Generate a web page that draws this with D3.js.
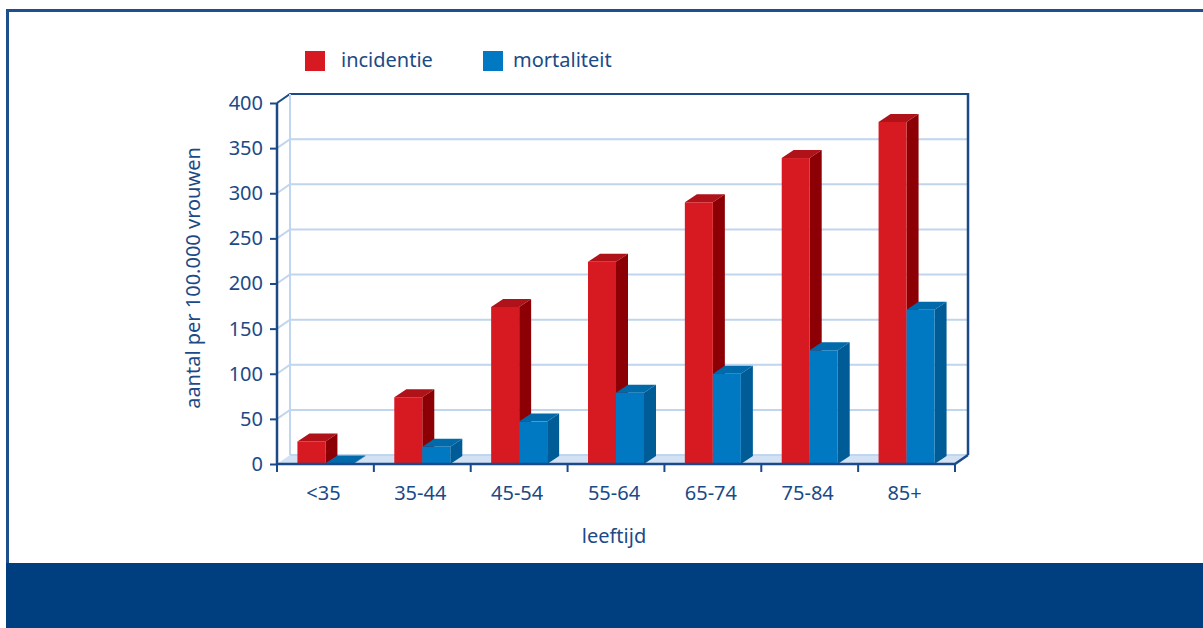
<!DOCTYPE html>
<html>
<head>
<meta charset="utf-8">
<script src="https://cdn.jsdelivr.net/npm/d3@7"></script>
<style>
  body { margin: 0; background: #fff; }
  svg text { font-family: "Noto Sans", sans-serif; fill: #1b4a87; }
</style>
</head>
<body>
<div id="chart"></div>
<script>
// Data.
var categories = ['<35', '35-44', '45-54', '55-64', '65-74', '75-84', '85+'];
var incidentie = [25, 74, 174, 224, 290, 339, 379];
var mortaliteit = [0.5, 19, 47, 79, 100, 126, 171];
var yTicks = [0, 50, 100, 150, 200, 250, 300, 350, 400];
var seriesNames = ['incidentie', 'mortaliteit'];

var W = 1203, H = 628;
var dark = '#1b4a87', grid = '#c0d5ee';
var depthX = 13, depthY = -9;     // wall depth
var barDX = 12, barDY = -8;       // bar depth
var barW = 28;
var fs = 20;

var colors = {
    incidentie: {front: '#d71a21', side: '#8c0005', top: '#b0121a'},
    mortaliteit: {front: '#0079c2', side: '#005c96', top: '#006aab'}
};

var svg = d3.select('#chart').append('svg')
    .attr('width', W)
    .attr('height', H);

// Frame and footer band.
svg.append('rect')
    .attr('x', 7.5).attr('y', 10.5)
    .attr('width', W + 10).attr('height', 560)
    .attr('fill', 'none')
    .attr('stroke', '#1d4f8c')
    .attr('stroke-width', 3);
svg.append('rect')
    .attr('x', 6).attr('y', 563)
    .attr('width', W - 6).attr('height', H - 563)
    .attr('fill', '#003f7f');

var x = d3.scaleBand().domain(categories).range([277, 955]);
var y = d3.scaleLinear().domain([0, 400]).range([464, 103]);

var x0 = x.range()[0], x1 = x.range()[1];

// Floor.
svg.append('polygon')
    .attr('points', [[x0, y(0)], [x0 + depthX, y(0) + depthY], [x1 + depthX, y(0) + depthY], [x1, y(0)]].join(' '))
    .attr('fill', '#d2e1f3');

// Gridlines on back and left walls.
var g = svg.append('g').attr('class', 'grid');
yTicks.forEach(function(t) {
    if (t === 0) return;
    g.append('polyline')
        .attr('points', [[x0, y(t)], [x0 + depthX, y(t) + depthY], [x1 + depthX, y(t) + depthY]].join(' '))
        .attr('fill', 'none')
        .attr('stroke', t === 400 ? dark : grid)
        .attr('stroke-width', 2);
});
g.append('line')
    .attr('x1', x0 + depthX).attr('x2', x0 + depthX)
    .attr('y1', y(400) + depthY).attr('y2', y(0) + depthY)
    .attr('stroke', grid).attr('stroke-width', 2);
g.append('line')
    .attr('x1', x0 + depthX).attr('x2', x1 + depthX)
    .attr('y1', y(0) + depthY).attr('y2', y(0) + depthY)
    .attr('stroke', grid).attr('stroke-width', 2);
g.append('line')
    .attr('x1', x1 + depthX).attr('x2', x1 + depthX)
    .attr('y1', y(400) + depthY - 1).attr('y2', y(0) + depthY)
    .attr('stroke', dark).attr('stroke-width', 2.5);

// 3D bars.
function drawBar(sel, bx, v, c) {
    var yt = y(v), yb = y(0);
    sel.append('polygon')
        .attr('points', [[bx, yt], [bx + barDX, yt + barDY], [bx + barW + barDX, yt + barDY], [bx + barW, yt]].join(' '))
        .attr('fill', c.top);
    sel.append('polygon')
        .attr('points', [[bx + barW, yt], [bx + barW + barDX, yt + barDY], [bx + barW + barDX, yb + barDY], [bx + barW, yb]].join(' '))
        .attr('fill', c.side);
    sel.append('rect')
        .attr('x', bx).attr('y', yt)
        .attr('width', barW).attr('height', yb - yt)
        .attr('fill', c.front);
}

var bars = svg.append('g').attr('class', 'bars');
categories.forEach(function(cat, i) {
    var start = x(cat) + (x.bandwidth() - 2 * barW) / 2;
    drawBar(bars, start, incidentie[i], colors.incidentie);
    drawBar(bars, start + barW, mortaliteit[i], colors.mortaliteit);
});

// Front axes.
svg.append('polyline')
    .attr('points', [[x0, y(400)], [x0, y(0)], [x1, y(0)], [x1 + depthX, y(0) + depthY]].join(' '))
    .attr('fill', 'none')
    .attr('stroke', dark)
    .attr('stroke-width', 2.5);

var yAxis = d3.axisLeft(y).tickValues(yTicks).tickSize(7).tickPadding(7);
svg.append('g')
    .attr('transform', 'translate(' + x0 + ',0)')
    .call(yAxis)
    .call(function(a) {
        a.select('.domain').remove();
        a.selectAll('line').attr('stroke', dark).attr('stroke-width', 2);
        a.selectAll('text').attr('font-size', fs).attr('fill', dark)
            .style('font-family', '"Noto Sans", sans-serif');
    });

var boundaries = categories.map(function(c) { return x(c); }).concat([x1]);
svg.append('g').selectAll('line')
    .data(boundaries)
    .join('line')
    .attr('x1', function(d) { return d; }).attr('x2', function(d) { return d; })
    .attr('y1', y(0)).attr('y2', y(0) + 8)
    .attr('stroke', dark).attr('stroke-width', 2);

svg.append('g').selectAll('text')
    .data(categories)
    .join('text')
    .attr('x', function(d) { return x(d) + x.bandwidth() / 2 - 2; })
    .attr('y', 500)
    .attr('text-anchor', 'middle')
    .attr('font-size', fs)
    .text(function(d) { return d; });

// Axis titles.
svg.append('text')
    .attr('x', 614).attr('y', 543)
    .attr('text-anchor', 'middle')
    .attr('font-size', fs)
    .text('leeftijd');
svg.append('text')
    .attr('transform', 'translate(200,278) rotate(-90)')
    .attr('text-anchor', 'middle')
    .attr('font-size', fs)
    .text('aantal per 100.000 vrouwen');

// Legend.
var legendX = [305, 483], legendTextX = [341, 513];
var legend = svg.append('g').selectAll('g')
    .data(seriesNames)
    .join('g')
    .attr('transform', function(d, i) { return 'translate(' + legendX[i] + ',51)'; });
legend.append('rect')
    .attr('width', 20).attr('height', 20)
    .attr('fill', function(d) { return colors[d].front; });
legend.append('text')
    .attr('x', function(d, i) { return legendTextX[i] - legendX[i]; })
    .attr('y', 16)
    .attr('font-size', fs)
    .text(function(d) { return d; });
</script>
</body>
</html>
